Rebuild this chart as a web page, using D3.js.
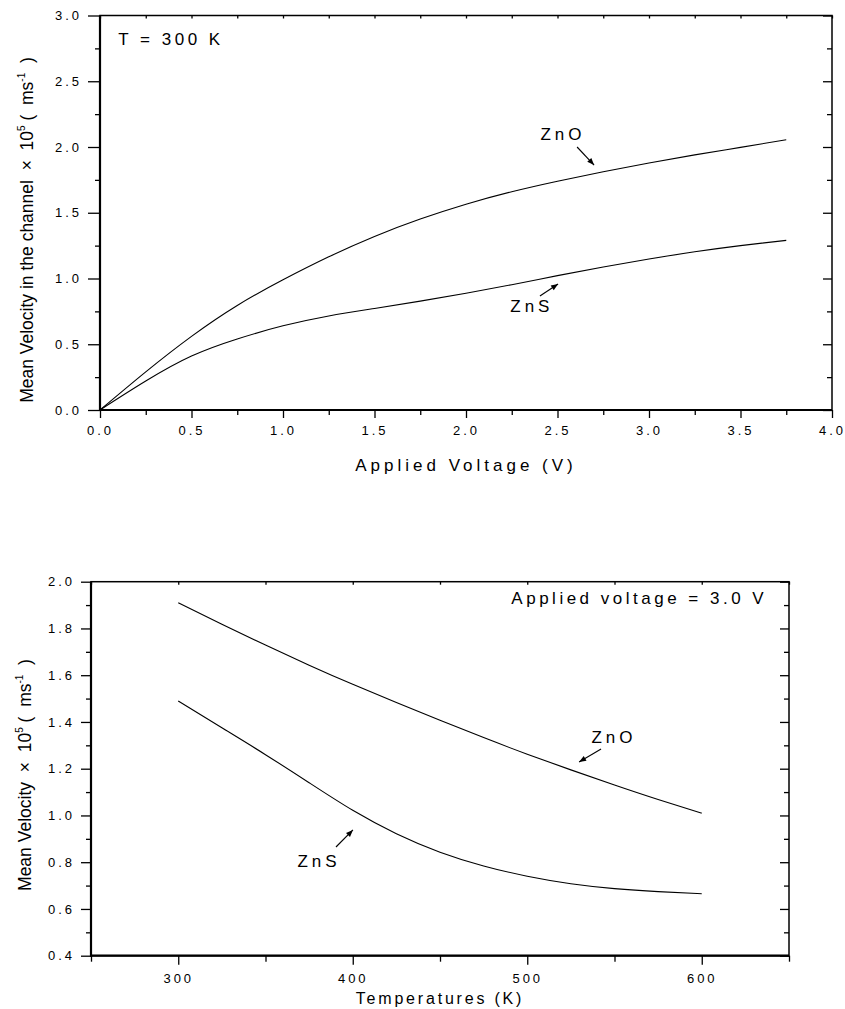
<!DOCTYPE html>
<html><head><meta charset="utf-8">
<script src="https://cdn.jsdelivr.net/npm/d3@7"></script>
<style>
body{margin:0;background:#fff;}
svg{display:block;font-family:"Liberation Sans", Arial, sans-serif;}
</style></head><body>
<svg id="c" width="845" height="1009"></svg>
<script>
// ---- Top chart data (T = 300 K) ----
const voltage = [0,0.25,0.5,0.75,1.0,1.25,1.5,1.75,2.0,2.25,2.5,2.75,3.0,3.25,3.5,3.75];
const znoVsVoltage = [0,0.29,0.56,0.795,0.99,1.165,1.32,1.452,1.565,1.66,1.74,1.812,1.878,1.94,1.997,2.055];
const znsVsVoltage = [0,0.22,0.41,0.54,0.64,0.715,0.772,0.828,0.888,0.953,1.022,1.088,1.148,1.203,1.25,1.29];
const voltMajor = [0,0.5,1.0,1.5,2.0,2.5,3.0,3.5,4.0];
const voltMinor = [0.25,0.75,1.25,1.75,2.25,2.75,3.25,3.75];
const velMajorTop = [0,0.5,1.0,1.5,2.0,2.5,3.0];
const velMinorTop = [0.25,0.75,1.25,1.75,2.25,2.75];

// ---- Bottom chart data (Applied voltage = 3.0 V) ----
const temperature = [300,325,350,375,400,425,450,475,500,525,550,575,600];
const znoVsTemp = [1.91,1.818,1.729,1.643,1.561,1.483,1.407,1.333,1.262,1.195,1.13,1.068,1.01];
const znsVsTemp = [1.49,1.375,1.26,1.14,1.022,0.922,0.843,0.784,0.74,0.708,0.687,0.674,0.665];
const tempMajor = [300,400,500,600];
const tempMinor = [250,350,450,550,650];
const velMajorBot = [0.4,0.6,0.8,1.0,1.2,1.4,1.6,1.8,2.0];
const velMinorBot = [0.5,0.7,0.9,1.1,1.3,1.5,1.7,1.9];

const NB = "\u00a0";
const svg = d3.select("#c");
svg.append("rect").attr("width",845).attr("height",1009).attr("fill","#fff");
const defs = svg.append("defs");
defs.append("marker").attr("id","ah").attr("viewBox","0 0 10 10")
  .attr("refX",10).attr("refY",5).attr("markerWidth",9).attr("markerHeight",7)
  .attr("markerUnits","userSpaceOnUse").attr("orient","auto")
  .append("path").attr("d","M0,1 L10,5 L0,9 Z").attr("fill","#000");

function styleAxis(g, ls){
  g.select(".domain").remove();
  g.selectAll(".tick line").attr("stroke","#000").attr("stroke-width",1.3);
  g.selectAll(".tick text").attr("fill","#000").attr("font-size",13)
    .style("letter-spacing", ls + "px");
}

function panel(cfg){
  const x = d3.scaleLinear().domain(cfg.xDom).range(cfg.xR);
  const y = d3.scaleLinear().domain(cfg.yDom).range(cfg.yR);
  const g = svg.append("g");
  const [x0,x1] = cfg.xR, [yb,yt] = cfg.yR;
  const bMin = g.append("g").attr("transform",`translate(0,${yb})`)
    .call(d3.axisBottom(x).tickValues(cfg.xMinor).tickSize(cfg.xMinLen).tickFormat(""));
  styleAxis(bMin,0);
  const bMaj = g.append("g").attr("transform",`translate(0,${yb})`)
    .call(d3.axisBottom(x).tickValues(cfg.xMajor).tickSize(cfg.xMajLen).tickPadding(cfg.xPad).tickFormat(cfg.xFmt));
  styleAxis(bMaj,cfg.tickLs);
  const tAx = g.append("g").attr("transform",`translate(0,${yt})`)
    .call(d3.axisTop(x).tickValues(cfg.topTicks).tickSize(-3).tickFormat(""));
  styleAxis(tAx,0);
  const lMin = g.append("g").attr("transform",`translate(${x0},0)`)
    .call(d3.axisLeft(y).tickValues(cfg.yMinor).tickSize(5).tickFormat(""));
  styleAxis(lMin,0);
  const lMaj = g.append("g").attr("transform",`translate(${x0},0)`)
    .call(d3.axisLeft(y).tickValues(cfg.yMajor).tickSize(cfg.yMajLen).tickPadding(6).tickFormat(d3.format(".1f")));
  styleAxis(lMaj,cfg.tickLs);
  const rMin = g.append("g").attr("transform",`translate(${x1},0)`)
    .call(d3.axisRight(y).tickValues(cfg.yMinor).tickSize(-5).tickFormat(""));
  styleAxis(rMin,0);
  const rMaj = g.append("g").attr("transform",`translate(${x1},0)`)
    .call(d3.axisRight(y).tickValues(cfg.yMajor).tickSize(-9).tickFormat(""));
  styleAxis(rMaj,0);
  g.append("rect").attr("x",x0).attr("y",yt).attr("width",x1-x0).attr("height",yb-yt)
    .attr("fill","none").attr("stroke","#000").attr("stroke-width",1.5);
  g.append("line").attr("x1",x0).attr("x2",x0).attr("y1",yt).attr("y2",yb+1).attr("stroke","#000").attr("stroke-width",2.2);
  g.append("line").attr("x1",x0-1).attr("x2",x1).attr("y1",yb).attr("y2",yb).attr("stroke","#000").attr("stroke-width",2.2);
  const line = d3.line().x(d=>x(d[0])).y(d=>y(d[1])).curve(d3.curveNatural);
  cfg.series.forEach(s=>{
    g.append("path").datum(d3.zip(cfg.xs, s)).attr("d",line)
      .attr("fill","none").attr("stroke","#000").attr("stroke-width",1.1);
  });
  cfg.labels.forEach(l=>{
    g.append("text").attr("x",x(l.x)).attr("y",y(l.y)).attr("text-anchor",l.anchor||"middle")
      .attr("font-size",l.size||17).style("letter-spacing",(l.ls==null?4:l.ls)+"px").text(l.t);
  });
  cfg.arrows.forEach(a=>{
    g.append("line").attr("x1",x(a[0])).attr("y1",y(a[1])).attr("x2",x(a[2])).attr("y2",y(a[3]))
      .attr("stroke","#000").attr("stroke-width",1.1).attr("marker-end","url(#ah)");
  });
  g.append("text").attr("x",(x0+x1)/2).attr("y",cfg.xTitleY).attr("text-anchor","middle")
    .attr("font-size",cfg.xTitleSize).style("letter-spacing",cfg.xTitleLs+"px").text(cfg.xTitle);
  const yt_ = g.append("text").attr("transform",`translate(${cfg.yTitleX},${cfg.yTitleY}) rotate(-90)`)
    .attr("text-anchor","middle").attr("font-size",17.5);
  yt_.append("tspan").text(cfg.yTitle + NB+NB+"\u00d7"+NB+" 10");
  yt_.append("tspan").attr("dy",-8).attr("font-size",10).text("5");
  yt_.append("tspan").attr("dy",8).text(NB+"("+NB+" ms");
  yt_.append("tspan").attr("dy",-8).attr("font-size",10).text("-1");
  yt_.append("tspan").attr("dy",8).text(NB+NB+")");
}

panel({
  xDom:[0,4], xR:[100,832], yDom:[0,3], yR:[410,15.5],
  xMajor:voltMajor, xMinor:voltMinor, xMajLen:8, xMinLen:5, xPad:8, xFmt:d3.format(".1f"),
  tickLs:3,
  topTicks:voltMajor.concat(voltMinor), yMajor:velMajorTop, yMinor:velMinorTop, yMajLen:12,
  xs:voltage, series:[znoVsVoltage, znsVsVoltage],
  labels:[
    {t:"T = 300 K", x:0.1, y:2.776, anchor:"start", ls:3.5},
    {t:"ZnO", x:2.53, y:2.053},
    {t:"ZnS", x:2.36, y:0.745}
  ],
  arrows:[[2.607,2.0,2.70,1.863],[2.404,0.867,2.503,0.958]],
  xTitle:"Applied Voltage (V)", xTitleY:471, xTitleSize:17, xTitleLs:4,
  yTitle:"Mean Velocity in the channel", yTitleX:33, yTitleY:230
});

panel({
  xDom:[250,650], xR:[91,789], yDom:[0.4,2.0], yR:[955.7,581.7],
  xMajor:tempMajor, xMinor:tempMinor, xMajLen:9, xMinLen:6, xPad:9, xFmt:d3.format("d"),
  tickLs:3,
  topTicks:tempMajor.concat(tempMinor), yMajor:velMajorBot, yMinor:velMinorBot, yMajLen:10,
  xs:temperature, series:[znoVsTemp, znsVsTemp],
  labels:[
    {t:"Applied voltage = 3.0 V", x:637.5, y:1.905, anchor:"end", ls:3.5},
    {t:"ZnO", x:549.7, y:1.31},
    {t:"ZnS", x:380.7, y:0.779}
  ],
  arrows:[[542.3,1.284,529.7,1.229],[390.4,0.865,400.1,0.938]],
  xTitle:"Temperatures (K)", xTitleY:1004, xTitleSize:16, xTitleLs:2.8,
  yTitle:"Mean Velocity", yTitleX:31, yTitleY:775
});
</script>
</body></html>
